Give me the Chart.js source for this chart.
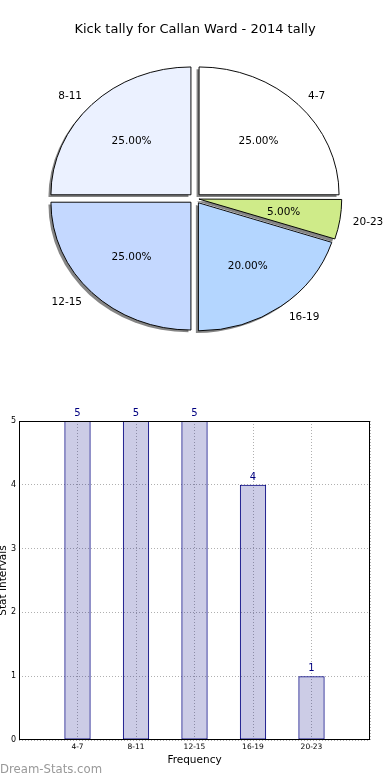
<!DOCTYPE html>
<html>
<head>
<meta charset="utf-8">
<title>Kick tally for Callan Ward - 2014 tally</title>
<script src="https://cdn.jsdelivr.net/npm/chart.js@4/dist/chart.umd.min.js"></script>
<style>
    body { margin: 0; background: #fff; }
    #wrap { position: relative; width: 390px; height: 780px; overflow: hidden; }
    #pie { position: absolute; left: 0; top: 0; }
    #bar { position: absolute; left: 0; top: 400px; }
    #mark { position: absolute; left: 0; top: 762px; font: 11.7px "DejaVu Sans", sans-serif; color: #999; }
</style>
</head>
<body>
<div id="wrap">
    <canvas id="pie" width="390" height="360"></canvas>
    <canvas id="bar" width="390" height="380"></canvas>
    <div id="mark">Dream-Stats.com</div>
</div>
<script>
// data
var chartTitle = "Kick tally for Callan Ward - 2014 tally";
var categories = ["4-7", "8-11", "12-15", "16-19", "20-23"];
var counts = [5, 5, 5, 4, 1];
var yTicks = [0, 1, 2, 3, 4, 5];
var pieColors = ["#ffffff", "#ebf1ff", "#c4d8ff", "#b4d6ff", "#cfeb89"];

Chart.defaults.font.family = "'DejaVu Sans', sans-serif";
Chart.defaults.color = "#000";

var total = counts.reduce(function (a, b) { return a + b; }, 0);
// matplotlib went counter-clockwise from 3 o'clock, chart.js goes clockwise -> reverse
var pieOrder = categories.map(function (c, i) { return i; }).reverse();
var squash = 0.913; // pie was drawn as an ellipse

var pieShape = {
    id: 'pieShape',
    beforeDatasetsDraw: function (chart) {
        var arcs = chart.getDatasetMeta(0).data;
        var ctx = chart.ctx;
        ctx.save();
        ctx.translate(arcs[0].x, arcs[0].y);
        ctx.scale(1, squash);
        ctx.translate(-arcs[0].x, -arcs[0].y);
        // shadows
        ctx.fillStyle = "rgba(0,0,0,0.48)";
        arcs.forEach(function (a) {
            var mid = (a.startAngle + a.endAngle) / 2;
            var shift = a.options.offset / 4;
            var fix = 1 - Math.sin(Math.min(Math.PI, a.endAngle - a.startAngle));
            var cx = a.x + Math.cos(mid) * shift - 2.5;
            var cy = a.y + Math.sin(mid) * shift + 2.5;
            ctx.beginPath();
            ctx.moveTo(cx, cy);
            ctx.arc(cx, cy, a.outerRadius + shift * fix, a.startAngle, a.endAngle);
            ctx.closePath();
            ctx.fill();
        });
    },
    afterDatasetsDraw: function (chart) {
        var ctx = chart.ctx;
        ctx.restore();
        var arcs = chart.getDatasetMeta(0).data;
        ctx.save();
        ctx.font = "10.5px 'DejaVu Sans'";
        ctx.fillStyle = "#000";
        ctx.textBaseline = "middle";
        arcs.forEach(function (a, k) {
            var i = pieOrder[k];
            var mid = (a.startAngle + a.endAngle) / 2;
            var shift = 23 / 4;
            var r = a.outerRadius;
            var ex = Math.cos(mid) * shift, ey = Math.sin(mid) * shift;
            var lx = a.x + ex + Math.cos(mid) * r * 1.1;
            var ly = a.y + (ey + Math.sin(mid) * r * 1.1) * squash;
            ctx.textAlign = Math.cos(mid) > 0 ? "left" : "right";
            ctx.fillText(categories[i], lx, ly + 1);
            var px = a.x + ex + Math.cos(mid) * r * 0.6;
            var py = a.y + (ey + Math.sin(mid) * r * 0.6) * squash;
            ctx.textAlign = "center";
            ctx.fillText((100 * counts[i] / total).toFixed(2) + "%", px, py + 1);
        });
        ctx.restore();
    }
};

var pieChart = new Chart(document.getElementById("pie"), {
    type: 'pie',
    data: {
        labels: pieOrder.map(function (i) { return categories[i]; }),
        datasets: [{
            data: pieOrder.map(function (i) { return counts[i]; }),
            backgroundColor: pieOrder.map(function (i) { return pieColors[i]; }),
            borderColor: "#000",
            borderWidth: 1,
            // the thin slice gets a bigger radius from chart.js, so push it out less
            offset: pieOrder.map(function (i) { return counts[i] / total < 0.1 ? 16 : 23; }),
            clip: false
        }]
    },
    options: {
        responsive: false,
        animation: false,
        rotation: 90,
        radius: 140,
        layout: {padding: {bottom: 10.6}},
        plugins: {
            legend: {display: false},
            tooltip: {enabled: false},
            title: {
                display: true,
                text: chartTitle,
                color: "#000",
                font: {size: 13, weight: 'normal'},
                padding: {top: 22, bottom: 10}
            }
        }
    },
    plugins: [pieShape]
});

var frame = {
    id: 'frame',
    afterDraw: function (chart) {
        var a = chart.chartArea;
        var ctx = chart.ctx;
        ctx.save();
        ctx.strokeStyle = "#000";
        ctx.lineWidth = 1;
        ctx.strokeRect(Math.round(a.left) + 0.5, Math.round(a.top) + 0.5,
                Math.round(a.right - a.left) - 1, Math.round(a.bottom - a.top) - 1);
        ctx.restore();
    }
};

var valueLabels = {
    id: 'valueLabels',
    afterDatasetsDraw: function (chart) {
        var ctx = chart.ctx;
        ctx.save();
        ctx.font = "10px 'DejaVu Sans'";
        ctx.fillStyle = "#000080";
        ctx.textAlign = "center";
        ctx.textBaseline = "alphabetic";
        chart.getDatasetMeta(0).data.forEach(function (bar, i) {
            ctx.fillText(counts[i], bar.x, bar.y - 5);
        });
        ctx.restore();
    }
};

var barChart = new Chart(document.getElementById("bar"), {
    type: 'bar',
    data: {
        datasets: [{
            data: counts.map(function (v, i) { return {x: i + 1, y: v}; }),
            backgroundColor: "rgba(0,0,128,0.2)",
            borderColor: "#000080",
            borderWidth: 1,
            borderSkipped: false,
            categoryPercentage: 1,
            barPercentage: 0.45
        }]
    },
    options: {
        responsive: false,
        animation: false,
        layout: {padding: {top: 21, right: 20}},
        plugins: {
            legend: {display: false},
            tooltip: {enabled: false}
        },
        scales: {
            x: {
                type: 'linear',
                min: 0,
                max: categories.length + 1,
                offset: false,
                afterFit: function (s) { s.height = 40; },
                ticks: {
                    stepSize: 1,
                    autoSkip: false,
                    maxRotation: 0,
                    padding: 3,
                    color: "#000",
                    font: {size: 7.5},
                    callback: function (v) { return categories[v - 1] || ''; }
                },
                grid: {color: "#b0b0b0", drawTicks: false, offset: false},
                border: {display: false, dash: [1, 2]},
                title: {
                    display: true,
                    text: "Frequency",
                    color: "#000",
                    font: {size: 10.5},
                    padding: {top: 0, bottom: 13}
                }
            },
            y: {
                min: yTicks[0],
                max: yTicks[yTicks.length - 1],
                afterFit: function (s) { s.width = 19; },
                afterBuildTicks: function (s) {
                    s.ticks = yTicks.map(function (v) { return {value: v}; });
                },
                ticks: {padding: 3, color: "#000", font: {size: 8}},
                grid: {color: "#b0b0b0", drawTicks: false},
                border: {display: false, dash: [1, 2]},
                title: {
                    display: true,
                    text: "Stat Intervals",
                    color: "#000",
                    font: {size: 10.5},
                    padding: {top: -3, bottom: 0}
                }
            }
        }
    },
    plugins: [frame, valueLabels]
});
</script>
</body>
</html>
